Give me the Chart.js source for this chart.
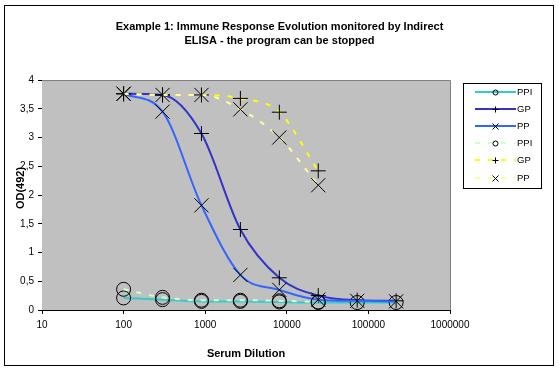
<!DOCTYPE html>
<html><head><meta charset="utf-8">
<script src="https://cdn.jsdelivr.net/npm/chart.js@4/dist/chart.umd.min.js"></script>
<style>html,body{margin:0;padding:0;background:#fff;overflow:hidden}canvas{display:block}</style>
</head><body>
<canvas id="c" width="559" height="372"></canvas>
<script>
const dilutions = [100, 300, 900, 2700, 8100, 24300, 72900, 218700];
const seriesNames = ['PPI', 'GP', 'PP', 'PPI', 'GP', 'PP'];
const ppiSolid = [0.21, 0.18, 0.15, 0.15, 0.14, 0.13, 0.13, 0.13];
const gpSolid  = [3.76, 3.74, 3.07, 1.40, 0.56, 0.25, 0.17, 0.16];
const ppSolid  = [3.76, 3.45, 1.82, 0.61, 0.35, 0.18, 0.16, 0.15];
const ppiDotted = [0.36, 0.22, 0.17, 0.17, 0.16, 0.14];
const gpDotted  = [3.76, 3.74, 3.74, 3.68, 3.44, 2.42];
const ppDotted  = [3.76, 3.74, 3.74, 3.49, 3.00, 2.17];
const xTicks = [10, 100, 1000, 10000, 100000, 1000000];
const yTicks = [0, 0.5, 1, 1.5, 2, 2.5, 3, 3.5, 4];
const titleLines = ['Example 1: Immune Response Evolution monitored by Indirect', 'ELISA - the program can be stopped'];
const xTitle = 'Serum Dilution';
const yTitle = 'OD(492)';

const values = [ppiSolid, gpSolid, ppSolid, ppiDotted, gpDotted, ppDotted];
const colors = ['#33CCCC', '#3333CC', '#3366FF', '#CCFFCC', '#FFFF00', '#FFFF99'];
const styles = ['circle', 'cross', 'crossRot', 'circle', 'cross', 'crossRot'];
const radii = {circle: 7, cross: 7.5, crossRot: 10};
const DASH = [5, 8];

const datasets = values.map((vals, i) => ({
  label: seriesNames[i],
  data: vals.map((v, j) => ({x: dilutions[j], y: v})),
  showLine: true,
  borderColor: colors[i],
  borderWidth: 2,
  borderDash: i >= 3 ? DASH : [],
  cubicInterpolationMode: 'monotone',
  pointStyle: styles[i],
  pointRadius: radii[styles[i]],
  pointBorderColor: '#000',
  pointBackgroundColor: 'rgba(0,0,0,0)',
  pointBorderWidth: 1,
  order: 10 - i
}));

function drawMarker(ctx, style, x, y, r) {
  ctx.beginPath();
  if (style === 'circle') { ctx.arc(x, y, r, 0, Math.PI * 2); }
  else if (style === 'cross') { ctx.moveTo(x - r, y); ctx.lineTo(x + r, y); ctx.moveTo(x, y - r); ctx.lineTo(x, y + r); }
  else { ctx.moveTo(x - r, y - r); ctx.lineTo(x + r, y + r); ctx.moveTo(x - r, y + r); ctx.lineTo(x + r, y - r); }
  ctx.stroke();
}

const decor = {
  id: 'decor',
  beforeDatasetsDraw(chart) {
    const {ctx, chartArea: a} = chart;
    ctx.save();
    ctx.fillStyle = '#C0C0C0';
    ctx.fillRect(a.left, a.top, a.right - a.left, a.bottom - a.top);
    ctx.strokeStyle = '#808080';
    ctx.lineWidth = 1;
    ctx.beginPath();
    ctx.moveTo(a.left, Math.round(a.top) + 0.5); ctx.lineTo(Math.round(a.right) + 0.5, Math.round(a.top) + 0.5);
    ctx.lineTo(Math.round(a.right) + 0.5, a.bottom);
    ctx.stroke();
    ctx.restore();
  },
  afterDraw(chart) {
    const {ctx, chartArea: a} = chart;
    ctx.save();
    // outer border
    ctx.strokeStyle = '#000'; ctx.lineWidth = 1;
    ctx.strokeRect(4.5, 5.5, 549, 360);
    // title
    ctx.fillStyle = '#000';
    ctx.font = 'bold 11px "Liberation Sans", Arial, sans-serif';
    ctx.textAlign = 'center'; ctx.textBaseline = 'alphabetic';
    ctx.fillText(titleLines[0], 279.5, 30);
    ctx.fillText(titleLines[1], 279.5, 43.5);
    // y title
    ctx.save();
    ctx.translate(21, 188);
    ctx.rotate(-Math.PI / 2);
    ctx.textBaseline = 'middle';
    ctx.fillText(yTitle, 0, 0);
    ctx.restore();
    // legend
    const lx = 463, ly = 83, lw = 78, lh = 105;
    ctx.fillStyle = '#fff'; ctx.fillRect(lx, ly, lw, lh);
    ctx.strokeStyle = '#000'; ctx.strokeRect(lx + 0.5, ly + 0.5, lw, lh);
    ctx.font = '9.5px "Liberation Sans", Arial, sans-serif';
    ctx.textAlign = 'left'; ctx.textBaseline = 'middle';
    chart.data.datasets.forEach((ds, i) => {
      const y = Math.round(92 + i * 17.1);
      ctx.strokeStyle = ds.borderColor; ctx.lineWidth = 2;
      ctx.setLineDash(ds.borderDash);
      ctx.beginPath(); ctx.moveTo(475, y); ctx.lineTo(516, y); ctx.stroke();
      ctx.setLineDash([]);
      ctx.strokeStyle = '#000'; ctx.lineWidth = 1;
      drawMarker(ctx, ds.pointStyle, 495.5, y + 0.5, ds.pointStyle === 'circle' ? 2.5 : 3);
      ctx.fillStyle = '#000';
      ctx.fillText(ds.label, 517, y + 0.5);
    });
    ctx.restore();
  }
};

new Chart(document.getElementById('c'), {
  type: 'scatter',
  data: {datasets},
  options: {
    responsive: false,
    animation: false,
    layout: {padding: {top: 80, right: 109, bottom: 0, left: 0}},
    plugins: {legend: {display: false}, tooltip: {enabled: false}, title: {display: false}},
    scales: {
      x: {
        type: 'logarithmic', min: 10, max: 1000000,
        afterBuildTicks: s => { s.ticks = xTicks.map(v => ({value: v})); },
        afterFit: s => { s.height = 62; },
        ticks: {callback: v => String(v), autoSkip: false, maxRotation: 0, color: '#000', padding: 5,
                font: {family: '"Liberation Sans", Arial, sans-serif', size: 10}},
        grid: {display: true, drawOnChartArea: false, drawTicks: true, tickLength: 4, color: '#000'},
        border: {display: true, color: '#000', width: 1},
        title: {display: true, text: xTitle, color: '#000', padding: {top: 0, bottom: 11},
                font: {family: '"Liberation Sans", Arial, sans-serif', size: 11, weight: 'bold'}}
      },
      y: {
        type: 'linear', min: 0, max: 4,
        afterBuildTicks: s => { s.ticks = yTicks.map(v => ({value: v})); },
        afterFit: s => { s.width = 42; },
        ticks: {callback: v => String(v).replace('.', ','), color: '#000', padding: 4,
                font: {family: '"Liberation Sans", Arial, sans-serif', size: 10}},
        grid: {display: true, drawOnChartArea: false, drawTicks: true, tickLength: 4, color: '#000'},
        border: {display: true, color: '#000', width: 1}
      }
    }
  },
  plugins: [decor]
});
</script>
</body></html>
